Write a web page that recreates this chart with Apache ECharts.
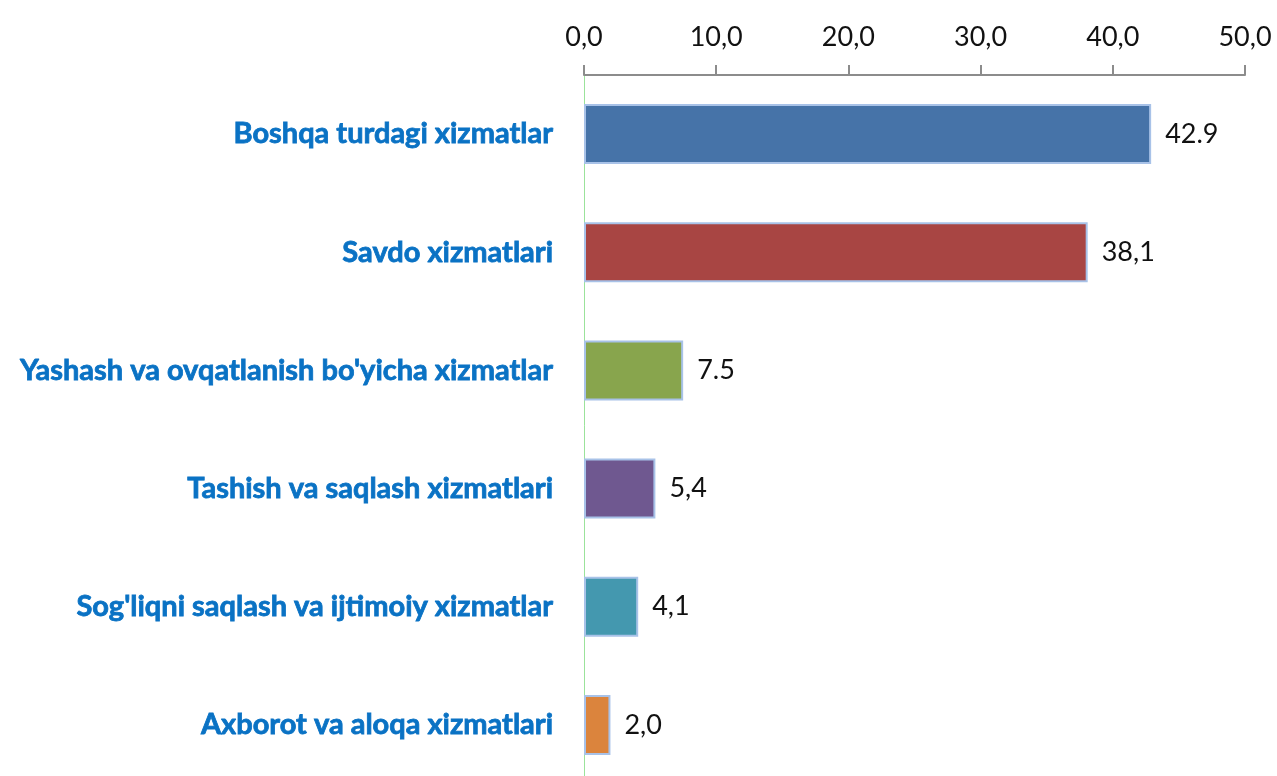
<!DOCTYPE html>
<html><head><meta charset="utf-8">
<script src="https://cdn.jsdelivr.net/npm/echarts@6/dist/echarts.min.js"></script>
<style>html,body{margin:0;padding:0;background:#fff}#c{width:1277px;height:776px}</style>
</head><body><div id="c"></div>
<script>
const categories = ["Boshqa turdagi xizmatlar","Savdo xizmatlari","Yashash va ovqatlanish bo'yicha xizmatlar","Tashish va saqlash xizmatlari","Sog'liqni saqlash va ijtimoiy xizmatlar","Axborot va aloqa xizmatlari"];
const values = [42.9, 38.1, 7.5, 5.4, 4.1, 2.0];
const valueLabels = ["42.9","38,1","7.5","5,4","4,1","2,0"];
const barColors = ["#4673A8","#A84543","#88A54D","#6F5890","#4498AF","#DB843D"];
const tickLabels = ["0,0","10,0","20,0","30,0","40,0","50,0"];

const chart = echarts.init(document.getElementById('c'));
chart.setOption({
  animation:false,
  grid:{left:584, right:32, top:75, height:709, outerBoundsMode:'none', containLabel:false},
  xAxis:{type:'value', position:'top', min:0, max:50, interval:10,
    axisLine:{show:true, lineStyle:{color:'#8c8c8c', width:2}},
    axisTick:{show:true, length:10, lineStyle:{color:'#8c8c8c', width:2}},
    splitLine:{show:false},
    axisLabel:{margin:24, fontSize:27, color:'#111', fontFamily:'Lato',
      formatter:(v)=>tickLabels[Math.round(v/10)]}
  },
  yAxis:{type:'category', inverse:true, data:categories,
    axisLine:{show:true, lineStyle:{color:'#9be39b', width:1}},
    axisTick:{show:false},
    axisLabel:{margin:31, fontSize:29, fontWeight:'bold', color:'#0A72C4', fontFamily:'Lato',
      textBorderColor:'#0A72C4', textBorderWidth:0.8}
  },
  series:[{type:'bar', barWidth:60,
    data: values.map((v,i)=>({value:v, itemStyle:{color:barColors[i]}})),
    itemStyle:{borderColor:'#A8C2E8', borderWidth:2},
    label:{show:true, position:'right', distance:14, fontSize:27, color:'#111', fontFamily:'Lato',
      formatter:(p)=>valueLabels[p.dataIndex]}
  }]
});
</script></body></html>
